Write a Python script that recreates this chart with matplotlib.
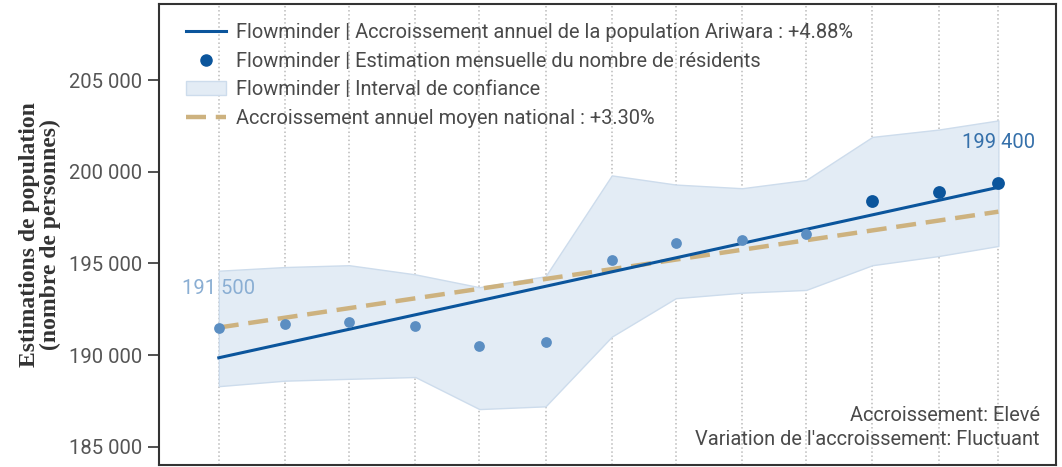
import numpy as np
import pandas as pd
import matplotlib
matplotlib.use('Agg')
import matplotlib.pyplot as plt
from matplotlib.lines import Line2D
from matplotlib.patches import Patch
from matplotlib.ticker import FuncFormatter

plt.rcParams['font.family'] = ['Roboto', 'DejaVu Sans']

# data
dates = pd.date_range('2022-03-01', periods=13, freq='MS')
estimates = [191500, 191700, 191800, 191600, 190500, 190700, 195200,
             196100, 196300, 196600, 198400, 198900, 199400]
ci_upper = [194600, 194800, 194900, 194400, 193700, 194300, 199800,
            199300, 199100, 199550, 201900, 202300, 202800]
ci_lower = [188300, 188600, 188700, 188800, 187050, 187200, 191000,
            193100, 193400, 193550, 194900, 195400, 195950]
trend_ends = [189850, 199150]      # Flowminder annual growth (+4.88%)
national_ends = [191500, 197820]   # national mean growth (+3.30%)
n_recent = 3                       # last months drawn darker

blue = '#0b559c'
light_blue = '#5b8ec2'
tan = '#cdb27f'
band = '#e3ecf5'
band_edge = '#cddcec'
txt = '#4a4a4a'

fig = plt.figure(figsize=(10.62, 4.67), dpi=100)
ax = fig.add_axes([0.1497, 0.0043, 0.8447, 0.9871])

# confidence band
ax.fill_between(dates, ci_lower, ci_upper, facecolor=band,
                edgecolor=band_edge, linewidth=1, zorder=1)

# national trend (dashed)
ax.plot([dates[0], dates[-1]], national_ends, color=tan, lw=3.2,
        dashes=(4.5, 2.2), zorder=3)
# flowminder trend
ax.plot([dates[0], dates[-1]], trend_ends, color=blue, lw=2.2, zorder=4)

# monthly estimates
ax.scatter(dates[:-n_recent], estimates[:-n_recent], s=60, color=light_blue,
           zorder=5, linewidths=0)
ax.scatter(dates[-n_recent:], estimates[-n_recent:], s=85, color=blue,
           zorder=5, linewidths=0)

# value labels
ax.text(dates[0], estimates[0] + 2120, '191 500', ha='center', va='center',
        fontsize=14.5, color='#8aaed3')
ax.text(dates[-1], estimates[-1] + 2170, '199 400', ha='center', va='center',
        fontsize=14.5, color='#3570aa')

ax.text(0.982, 0.108, 'Accroissement: Elevé', transform=ax.transAxes,
        ha='right', va='center', fontsize=14.4, color=txt)
ax.text(0.982, 0.056, "Variation de l'accroissement: Fluctuant",
        transform=ax.transAxes, ha='right', va='center', fontsize=14.4,
        color=txt)

ax.set_xlim(dates[0] - pd.Timedelta(days=28), dates[-1] + pd.Timedelta(days=27))
ax.set_ylim(184000, 209150)
ax.set_xticks(dates)
ax.tick_params(axis='x', length=0, labelbottom=False)
ax.grid(axis='x', color='#bbbbbb', linestyle=':', linewidth=1.1)
ax.set_axisbelow(True)

ax.set_yticks([185000, 190000, 195000, 200000, 205000])
ax.yaxis.set_major_formatter(FuncFormatter(lambda v, p: f"{int(v):,}".replace(',', ' ')))
ax.tick_params(axis='y', length=8, width=1.2, color='#333333',
               labelsize=14.6, labelcolor='#555555', pad=4)
for s in ax.spines.values():
    s.set_color('#333333')
    s.set_linewidth(1.5)

ax.set_ylabel('Estimations de population\n(nombre de personnes)',
              family='Liberation Serif', fontweight='bold', fontsize=17,
              color='#333333', labelpad=6, linespacing=0.95)

handles = [
    Line2D([], [], color=blue, lw=2.2),
    Line2D([], [], color=blue, marker='o', ms=8, linestyle='none'),
    Patch(facecolor=band, edgecolor=band_edge),
    Line2D([], [], color=tan, lw=3.2, dashes=(4.5, 2.2)),
]
labels = [
    'Flowminder | Accroissement annuel de la population Ariwara : +4.88%',
    'Flowminder | Estimation mensuelle du nombre de résidents',
    'Flowminder | Interval de confiance',
    'Accroissement annuel moyen national : +3.30%',
]
leg = ax.legend(handles, labels, loc='upper left', bbox_to_anchor=(0.010, 0.998),
                frameon=False, fontsize=14.4, handlelength=2.0,
                labelspacing=0.48, handletextpad=0.5)
for t in leg.get_texts():
    t.set_color(txt)

fig.savefig('out.png', dpi=100, facecolor='white')
